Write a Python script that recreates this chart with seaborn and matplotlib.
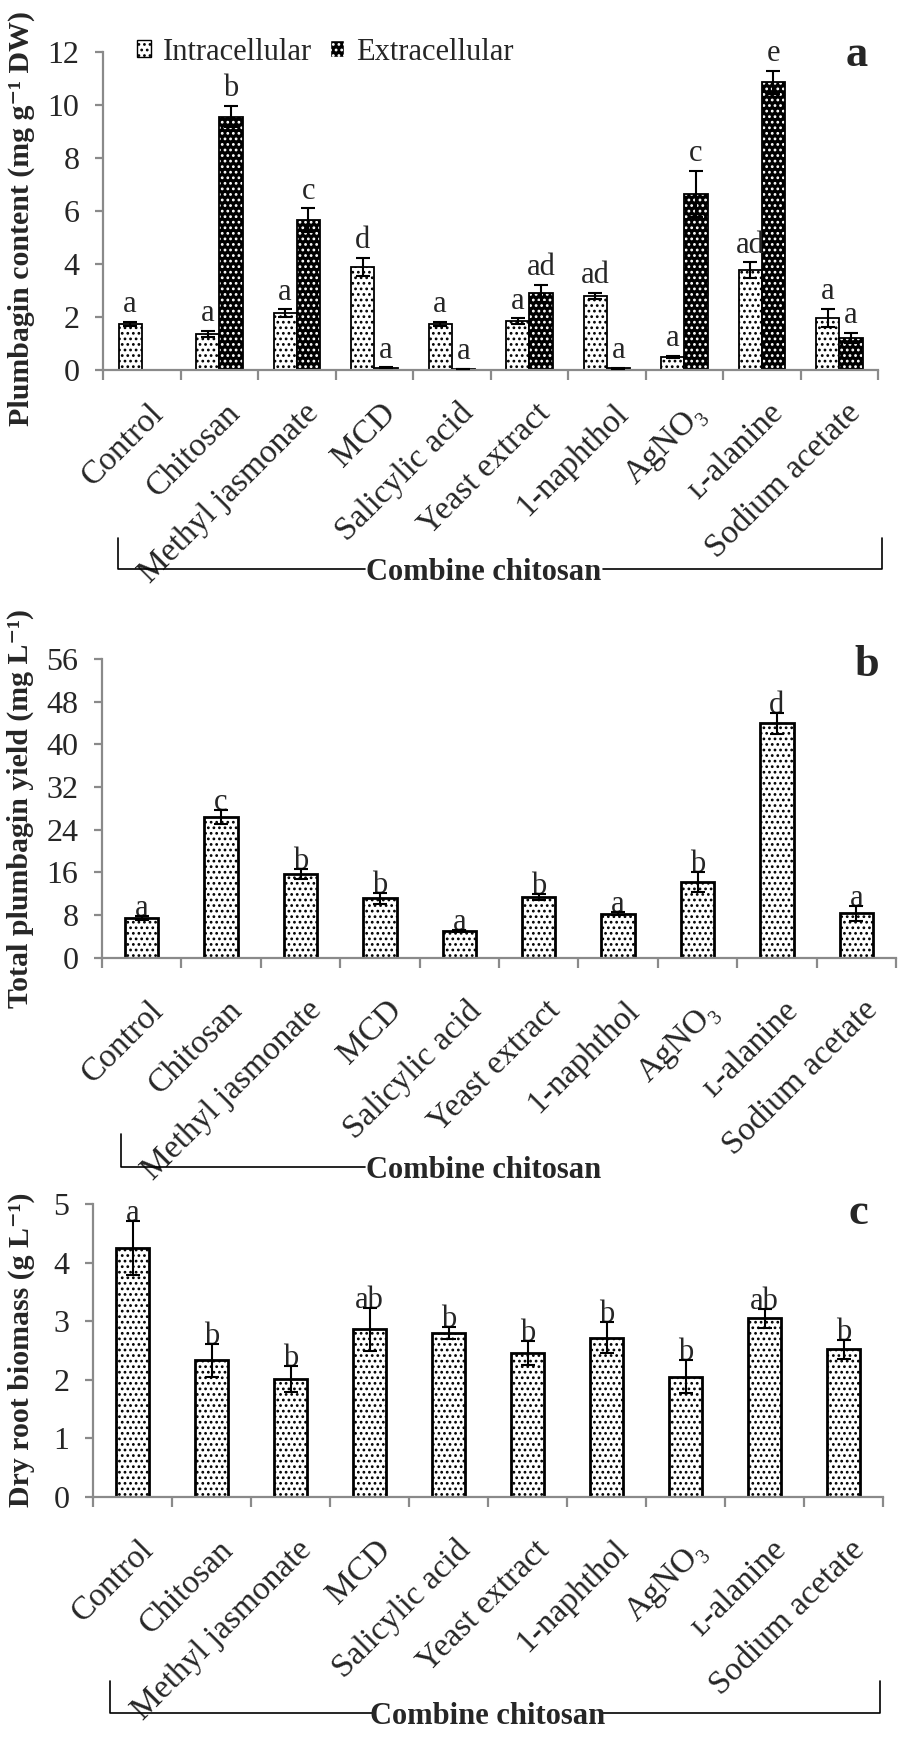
import numpy as np
import pandas as pd
import matplotlib
matplotlib.use("Agg")
import matplotlib.pyplot as plt
from matplotlib.lines import Line2D
from matplotlib.patches import Patch, Rectangle
from matplotlib.container import BarContainer
from matplotlib.transforms import ScaledTranslation
import seaborn as sns

# ---- data ----
treatments = ["Control", "Chitosan", "Methyl jasmonate", "MCD", "Salicylic acid",
              "Yeast extract", "1-naphthol", "AgNO\u2083", "\u029f-alanine", "Sodium acetate"]

intra = [1.75, 1.35, 2.14, 3.88, 1.75, 1.85, 2.80, 0.48, 3.77, 1.97]
intra_err = [0.08, 0.12, 0.15, 0.35, 0.08, 0.10, 0.12, 0.04, 0.29, 0.33]
intra_let = ["a", "a", "a", "d", "a", "a", "ad", "a", "ad", "a"]
extra = [np.nan, 9.56, 5.66, 0.08, 0.03, 2.89, 0.07, 6.64, 10.86, 1.20]
extra_err = [np.nan, 0.40, 0.44, 0.02, 0.01, 0.31, 0.02, 0.88, 0.44, 0.19]
extra_let = ["", "b", "c", "a", "a", "ad", "a", "c", "e", "a"]

total = [7.35, 26.3, 15.7, 11.1, 5.0, 11.4, 8.2, 14.2, 43.9, 8.3]
total_err = [0.4, 1.3, 0.9, 1.05, 0.2, 0.6, 0.3, 1.9, 1.9, 1.4]
total_let = ["a", "c", "b", "b", "a", "b", "a", "b", "d", "a"]

biomass = [4.25, 2.33, 2.01, 2.86, 2.80, 2.46, 2.72, 2.05, 3.05, 2.52]
biomass_err = [0.46, 0.28, 0.22, 0.37, 0.10, 0.20, 0.27, 0.28, 0.16, 0.16]
biomass_let = ["a", "b", "b", "ab", "b", "b", "b", "b", "ab", "b"]

forms = ["Intracellular", "Extracellular"]

sns.set_style("ticks")
plt.rcParams["font.family"] = ["Liberation Serif", "DejaVu Serif"]
plt.rcParams["hatch.linewidth"] = 1.2

W, H = 898, 1737
fig = plt.figure(figsize=(W / 100, H / 100), dpi=100)
GREY = "#8a8a8a"
FS_TICK = 23
FS_CAT = 24
FS_LET = 22


def fx(x):
    return x / W


def fy(y):
    return 1 - y / H


def make_ax(left, right, top, bottom):
    return fig.add_axes([fx(left), fy(bottom), (right - left) / W, (bottom - top) / H])


def style_ax(ax, ylim, step, pad_y, dx):
    ax.set_xlim(-0.5, len(treatments) - 0.5)
    ax.set_ylim(*ylim)
    ax.set_yticks(np.arange(ylim[0], ylim[1] + 0.01, step))
    ax.set_xticks(range(len(treatments)))
    ax.set_xticklabels(treatments)
    ax.set_xticks(np.arange(-0.5, len(treatments)), minor=True)
    ax.set_xlabel("")
    ax.set_ylabel("")
    sns.despine(ax=ax)
    for s in ["left", "bottom"]:
        ax.spines[s].set_color(GREY)
        ax.spines[s].set_linewidth(1.6)
    ax.tick_params(axis="y", length=6, width=1.6, color=GREY, labelsize=FS_TICK, pad=11)
    ax.tick_params(axis="x", which="major", length=0, labelsize=FS_CAT, pad=pad_y)
    ax.tick_params(axis="x", which="minor", length=7, width=1.6, color=GREY)
    off = ScaledTranslation(dx / 100, 0, fig.dpi_scale_trans)
    for lbl in ax.get_xticklabels():
        lbl.set_rotation(45)
        lbl.set_ha("right")
        lbl.set_va("top")
        lbl.set_rotation_mode("anchor")
        lbl.set_transform(lbl.get_transform() + off)


def add_letters(ax, xs, tops, letters, dy):
    for x, t, s in zip(xs, tops, letters):
        if s:
            ax.annotate(s, (x, t), xytext=(0, dy), textcoords="offset points",
                        ha="center", va="baseline", fontsize=FS_LET)


def bracket(x0, x1, ytop, ybot, tx0, tx1, right=True):
    kw = dict(transform=fig.transFigure, color="black", lw=1.2)
    fig.add_artist(Line2D([fx(x0), fx(x0), fx(tx0)], [fy(ytop), fy(ybot), fy(ybot)], **kw))
    if right:
        fig.add_artist(Line2D([fx(tx1), fx(x1), fx(x1)], [fy(ybot), fy(ybot), fy(ytop)], **kw))
    fig.text(fx((tx0 + tx1) / 2), fy(ybot + 3), "Combine chitosan", ha="center", va="center",
             fontsize=22, fontweight="bold")


# ---- panel a ----
ax1 = make_ax(103, 878, 52, 370)
df_a = pd.DataFrame({
    "treatment": treatments * 2,
    "form": [forms[0]] * len(treatments) + [forms[1]] * len(treatments),
    "value": intra + extra,
})
sns.barplot(data=df_a, x="treatment", y="value", hue="form", order=treatments, hue_order=forms,
            palette={forms[0]: "white", forms[1]: "black"}, width=0.6, errorbar=None,
            legend=False, ax=ax1)
err_a = {forms[0]: (intra, intra_err, intra_let), forms[1]: (extra, extra_err, extra_let)}
bar_conts = [c for c in ax1.containers if isinstance(c, BarContainer)]
for cont in bar_conts:
    for bar in list(cont):
        h = bar.get_height()
        if not np.isfinite(h):
            continue
        dark = bar.get_facecolor()[0] < 0.5
        form = forms[1] if dark else forms[0]
        cx = bar.get_x() + bar.get_width() / 2
        i = int(round(cx))
        vals, errs, lets = err_a[form]
        if dark:
            bar.set(facecolor="black", edgecolor="white", hatch="...", linewidth=0)
            ax1.add_patch(Rectangle(bar.get_xy(), bar.get_width(), h, fill=False,
                                    edgecolor="black", lw=1.3, zorder=bar.get_zorder() + 0.1))
        else:
            bar.set(facecolor="white", edgecolor="black", hatch="...", linewidth=1.3)
        ax1.errorbar(cx, vals[i], yerr=errs[i], fmt="none", ecolor="black",
                     elinewidth=1.5, capsize=5, capthick=1.5, zorder=5)
        add_letters(ax1, [cx], [vals[i] + errs[i]], [lets[i]], 7)
style_ax(ax1, (0, 12), 2, 20, 6)
ax1.legend(handles=[Patch(facecolor="white", edgecolor="black", hatch="...", label=forms[0]),
                    Patch(facecolor="black", edgecolor="white", hatch="...", label=forms[1])],
           loc="center left", bbox_to_anchor=((137 - 103) / 775, 1.0), ncol=2, frameon=False,
           fontsize=22, handlelength=0.45, handleheight=0.45, handletextpad=0.4,
           columnspacing=0.6, borderpad=0, borderaxespad=0)
bracket(118, 882, 538, 569, 365, 603)


def single_panel(ax, vals, errs, lets, ylim, step, pad_y):
    sns.barplot(x=treatments, y=vals, order=treatments, color="white", width=0.42,
                errorbar=None, ax=ax)
    xs = []
    for bar in list(ax.patches):
        bar.set(facecolor="white", edgecolor="black", hatch="...", linewidth=2)
        xs.append(bar.get_x() + bar.get_width() / 2)
    ax.errorbar(xs, vals, yerr=errs, fmt="none", ecolor="black", elinewidth=1.5,
                capsize=5, capthick=1.5, zorder=5)
    add_letters(ax, xs, np.array(vals) + np.array(errs), lets, 0)
    style_ax(ax, ylim, step, pad_y, 6)


# ---- panel b ----
ax2 = make_ax(102, 896, 659, 957.5)
single_panel(ax2, total, total_err, total_let, (0, 56), 8, 27)
bracket(121, None, 1134, 1167, 365, 603, right=False)

# ---- panel c ----
ax3 = make_ax(93, 883, 1204, 1497)
single_panel(ax3, biomass, biomass_err, biomass_let, (0, 5), 1, 27)
bracket(110, 880, 1681, 1713, 372, 603)

# ---- y labels and panel tags ----
ylab = dict(rotation=90, ha="center", va="center", fontsize=21.5, fontweight="bold")
fig.text(fx(21), fy(218), "Plumbagin content (mg g\u207b\u00b9 DW)", **ylab)
fig.text(fx(20), fy(808), "Total plumbagin yield (mg L\u207b\u00b9)", **ylab)
fig.text(fx(21), fy(1350), "Dry root biomass (g L\u207b\u00b9)", **ylab)

tag = dict(ha="center", va="center", fontsize=32, fontweight="bold")
fig.text(fx(857), fy(55), "a", **tag)
fig.text(fx(867), fy(665), "b", **tag)
fig.text(fx(858), fy(1213), "c", **tag)

fig.savefig("out.png", dpi=100)
